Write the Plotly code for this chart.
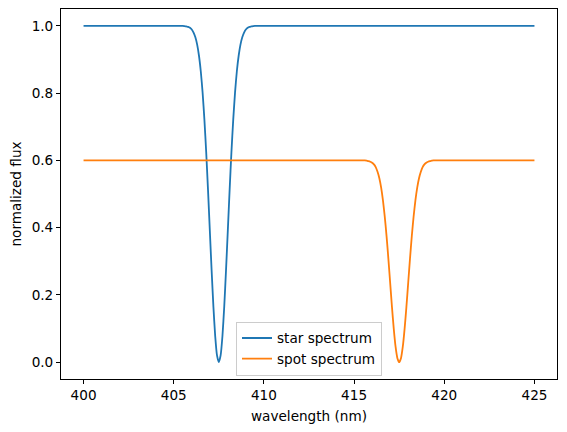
import plotly.graph_objects as go

# wavelength grids (nm)
star_wavelength = [400.0, 405.0, 405.5, 405.6, 405.7, 405.8, 405.9, 406.0, 406.1, 406.2, 406.3,
                   406.4, 406.5, 406.6, 406.7, 406.8, 406.9, 407.0, 407.1, 407.2, 407.3, 407.4,
                   407.5, 407.6, 407.7, 407.8, 407.9, 408.0, 408.1, 408.2, 408.3, 408.4, 408.5,
                   408.6, 408.7, 408.8, 408.9, 409.0, 409.1, 409.2, 409.3, 409.4, 409.5, 410.0, 425.0]
star_flux = [1.000, 1.000, 1.000, 0.999, 0.998, 0.997, 0.994, 0.989, 0.980, 0.966, 0.944,
             0.911, 0.865, 0.802, 0.722, 0.625, 0.513, 0.393, 0.274, 0.165, 0.077, 0.020,
             0.000, 0.020, 0.077, 0.165, 0.274, 0.393, 0.513, 0.625, 0.722, 0.802, 0.865,
             0.911, 0.944, 0.966, 0.980, 0.989, 0.994, 0.997, 0.998, 0.999, 1.000, 1.000, 1.000]

spot_wavelength = [400.0, 415.0, 415.5, 415.6, 415.7, 415.8, 415.9, 416.0, 416.1, 416.2, 416.3,
                   416.4, 416.5, 416.6, 416.7, 416.8, 416.9, 417.0, 417.1, 417.2, 417.3, 417.4,
                   417.5, 417.6, 417.7, 417.8, 417.9, 418.0, 418.1, 418.2, 418.3, 418.4, 418.5,
                   418.6, 418.7, 418.8, 418.9, 419.0, 419.1, 419.2, 419.3, 419.4, 419.5, 420.0, 425.0]
spot_flux = [0.600, 0.600, 0.600, 0.600, 0.599, 0.598, 0.596, 0.593, 0.588, 0.580, 0.566,
             0.547, 0.519, 0.481, 0.433, 0.375, 0.308, 0.236, 0.164, 0.099, 0.046, 0.012,
             0.000, 0.012, 0.046, 0.099, 0.164, 0.236, 0.308, 0.375, 0.433, 0.481, 0.519,
             0.547, 0.566, 0.580, 0.588, 0.593, 0.596, 0.598, 0.599, 0.600, 0.600, 0.600, 0.600]

x_ticks = [400, 405, 410, 415, 420, 425]
y_ticks = [0.0, 0.2, 0.4, 0.6, 0.8, 1.0]

FONT = "DejaVu Sans"
FS = 13.6

fig = go.Figure()
fig.add_trace(go.Scatter(x=star_wavelength, y=star_flux, mode="lines", name="star spectrum",
                         line=dict(color="#1f77b4", width=1.8, shape="spline", smoothing=0.6)))
fig.add_trace(go.Scatter(x=spot_wavelength, y=spot_flux, mode="lines", name="spot spectrum",
                         line=dict(color="#ff7f0e", width=1.8, shape="spline", smoothing=0.6)))

axis_common = dict(showgrid=False, zeroline=False, showline=True, linecolor="black", linewidth=1,
                   mirror=True, ticks="outside", ticklen=4, tickwidth=1, tickcolor="black",
                   tickfont=dict(family=FONT, size=FS, color="black"))

fig.update_xaxes(range=[398.75, 426.25], tickvals=x_ticks, ticktext=[str(t) for t in x_ticks],
                 title=dict(text="wavelength (nm)", font=dict(family=FONT, size=FS, color="black"),
                            standoff=9), **axis_common)
fig.update_yaxes(range=[-0.05, 1.05], tickvals=y_ticks, ticktext=[f"{t:.1f}" for t in y_ticks],
                 title=dict(text="normalized flux", font=dict(family=FONT, size=FS, color="black"),
                            standoff=6), **axis_common)

fig.update_layout(
    width=567, height=432,
    margin=dict(l=61, r=10, t=9, b=53),
    paper_bgcolor="white", plot_bgcolor="white",
    font=dict(family=FONT, size=FS, color="black"),
    legend=dict(x=0.5, xanchor="center", y=0.009, yanchor="bottom",
                bgcolor="rgba(255,255,255,0.8)", bordercolor="#cccccc", borderwidth=1,
                font=dict(family=FONT, size=FS, color="black"), tracegroupgap=0),
    showlegend=True,
)

fig.write_html("out.html")
